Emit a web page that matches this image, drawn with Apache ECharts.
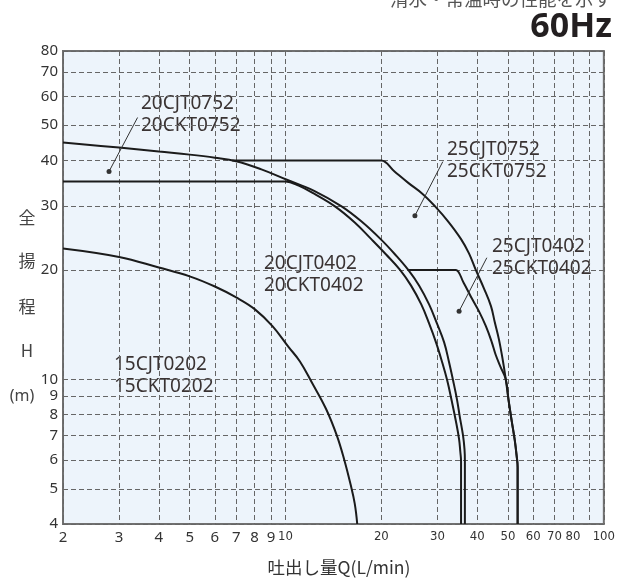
<!DOCTYPE html>
<html lang="ja">
<head>
<meta charset="UTF-8">
<title>60Hz</title>
<script src="https://cdn.jsdelivr.net/npm/echarts@6/dist/echarts.min.js"></script>
<style>
  html, body { margin: 0; padding: 0; background: #fff; }
  #chart { width: 618px; height: 583px; }
</style>
</head>
<body>
<div id="chart"></div>
<script>
// 目盛
const xTicks = [2, 3, 4, 5, 6, 7, 8, 9, 10, 20, 30, 40, 50, 60, 70, 80, 90, 100];
const yTicks = [4, 5, 6, 7, 8, 9, 10, 20, 30, 40, 50, 60, 70, 80];

// 性能曲線 [吐出し量Q(L/min), 全揚程H(m)]
const curve15C0202 = [[2, 22.9], [3, 21.7], [4, 20.3], [5, 19.2], [6, 18], [7, 16.8], [8, 15.6], [9.1, 14], [10.2, 12.3], [11.1, 11.2], [12.1, 9.8], [13.4, 8.3], [14.5, 7], [15.3, 6], [16, 5.15], [16.5, 4.55], [16.8, 4]];
const curve20C0402 = [[2, 35], [9.5, 35], [10, 35], [11, 34.1], [12.3, 32.4], [14.3, 29.9], [16.5, 27], [18.6, 24.3], [20.7, 22.05], [22.9, 20], [24.8, 18.1], [26.7, 16.07], [28.25, 14.25], [29.7, 12.64], [31, 11.2], [32.2, 9.94], [33.3, 8.7], [34.3, 7.67], [35.1, 6.84], [35.4, 6.34], [35.6, 5.95], [35.6, 4]];
const curve20C0752 = [[2, 44.8], [3, 43.4], [4, 42.3], [5, 41.5], [6, 40.7], [7, 39.8], [8.4, 37.8], [10.1, 35.4], [12.3, 33], [15, 29.9], [17.3, 27.2], [19.9, 24.3], [22.1, 22.05], [24.3, 20], [26.3, 18.1], [28.25, 16.07], [29.9, 14.25], [31.5, 12.64], [32.6, 11.2], [33.6, 9.94], [34.56, 8.81], [35.3, 7.86], [36.1, 7.02], [36.5, 6.42], [36.6, 5.95], [36.6, 4]];
const curve25C0402 = [[24.3, 20], [33.6, 20], [34.3, 20], [36.3, 18.4], [38.2, 16.9], [40.5, 15.4], [42.6, 14], [44.4, 12.7], [45.7, 11.7], [47.4, 10.8], [49.2, 10], [50.2, 8.76], [51.3, 7.72], [52.5, 6.8], [53.2, 6.18], [53.6, 5.73], [53.6, 4]];
const curve25C0752 = [[6.8, 40], [19.3, 40], [20, 40], [22, 37.3], [24.3, 34.7], [26.9, 32.4], [29.5, 29.9], [32.4, 27.2], [35.6, 24.3], [37.7, 22.2], [39.6, 20], [42, 17.8], [44.2, 15.9], [45.4, 14.4], [46.8, 12.9], [48.1, 11.35], [49.2, 10], [50.2, 8.76], [51.3, 7.72], [52.5, 6.8], [53.2, 6.18], [53.6, 5.73], [53.6, 4]];

// 引出線 [点, 文字側]
const leader20C0752 = [[2.79, 37.3], [3.43, 52.5]];
const leader25C0752 = [[25.5, 28.2], [31.2, 39.7]];
const leader25C0402 = [[35.1, 15.4], [42.9, 21.6]];

// 機種名
const modelLabels = [
  { lines: ['20CJT0752', '20CKT0752'], x: 141, y: 115 },
  { lines: ['25CJT0752', '25CKT0752'], x: 447, y: 161 },
  { lines: ['25CJT0402', '25CKT0402'], x: 492, y: 258 },
  { lines: ['20CJT0402', '20CKT0402'], x: 264, y: 275 },
  { lines: ['15CJT0202', '15CKT0202'], x: 114, y: 376 }
];

const chart = echarts.init(document.getElementById('chart'));

const curveList = [curve15C0202, curve20C0402, curve20C0752, curve25C0402, curve25C0752];
const leaderList = [leader20C0752, leader25C0752, leader25C0402];

const series = [];
curveList.forEach(d => {
  series.push({
    type: 'line',
    data: d,
    symbol: 'none',
    smooth: 0.4,
    silent: true,
    lineStyle: { color: '#1b1b1b', width: 2 }
  });
});
leaderList.forEach(d => {
  series.push({
    type: 'line',
    data: [
      { value: d[0], symbol: 'circle', symbolSize: 5 },
      { value: d[1], symbol: 'none' }
    ],
    showSymbol: true,
    silent: true,
    itemStyle: { color: '#333' },
    lineStyle: { color: '#333', width: 1 }
  });
});

const graphic = [
  {
    type: 'text', right: 6, top: -10,
    style: { text: '清水・常温時の性能を示す', font: '18.5px "Noto Sans CJK JP"', fill: '#555' }
  },
  {
    type: 'text', right: 6, top: 10,
    style: { text: '60Hz', font: 'bold 34px "Noto Sans"', fill: '#231f20' }
  },
  {
    type: 'text', x: 339, y: 567,
    style: { text: '吐出し量Q(L/min)', font: '17.5px "Noto Sans CJK JP"', fill: '#333', align: 'center', verticalAlign: 'middle' }
  }
];
[['全', 218], ['揚', 261], ['程', 307], ['H', 351]].forEach(c => {
  graphic.push({
    type: 'text', x: 27, y: c[1],
    style: { text: c[0], font: '17px "Noto Sans CJK JP"', fill: '#444', align: 'center', verticalAlign: 'middle' }
  });
});
graphic.push({
  type: 'text', x: 22, y: 396,
  style: { text: '(m)', font: '16px "Noto Sans"', fill: '#444', align: 'center', verticalAlign: 'middle' }
});
modelLabels.forEach(l => {
  graphic.push({
    type: 'text', x: l.x, y: l.y,
    style: { text: l.lines.join('\n'), font: '19px "Noto Sans"', lineHeight: 22, fill: '#3a3333', verticalAlign: 'middle' }
  });
});

const option = {
  animation: false,
  grid: {
    left: 63, right: 12, top: 51, bottom: 59,
    show: true,
    backgroundColor: '#edf4fb',
    borderColor: '#707070',
    borderWidth: 2
  },
  xAxis: {
    type: 'log',
    logBase: 10,
    min: 2,
    max: 100,
    axisLine: { show: false },
    axisTick: { show: false, customValues: xTicks },
    axisLabel: {
      customValues: xTicks,
      showMinLabel: true,
      showMaxLabel: true,
      hideOverlap: false,
      margin: 6,
      color: '#333',
      formatter: v => {
        const n = Math.round(v);
        return n >= 10 ? '{n|' + n + '}' : '{s|' + n + '}';
      },
      rich: {
        s: { fontSize: 15, fontFamily: 'Noto Sans', color: '#333' },
        n: { fontSize: 13, fontFamily: '"DejaVu Sans Condensed", "Liberation Sans", sans-serif', color: '#333' }
      }
    },
    splitLine: { show: true, lineStyle: { color: '#666', width: 1, type: [5, 3] } }
  },
  yAxis: {
    type: 'log',
    logBase: 10,
    min: 4,
    max: 80,
    axisLine: { show: false },
    axisTick: { show: false, customValues: yTicks },
    axisLabel: {
      customValues: yTicks,
      showMinLabel: true,
      showMaxLabel: true,
      margin: 5,
      fontSize: 15,
      fontFamily: 'Noto Sans',
      color: '#333',
      formatter: v => String(Math.round(v))
    },
    splitLine: { show: true, lineStyle: { color: '#666', width: 1, type: [5, 3] } }
  },
  graphic: graphic,
  series: series
};

chart.setOption(option);
</script>
</body>
</html>
